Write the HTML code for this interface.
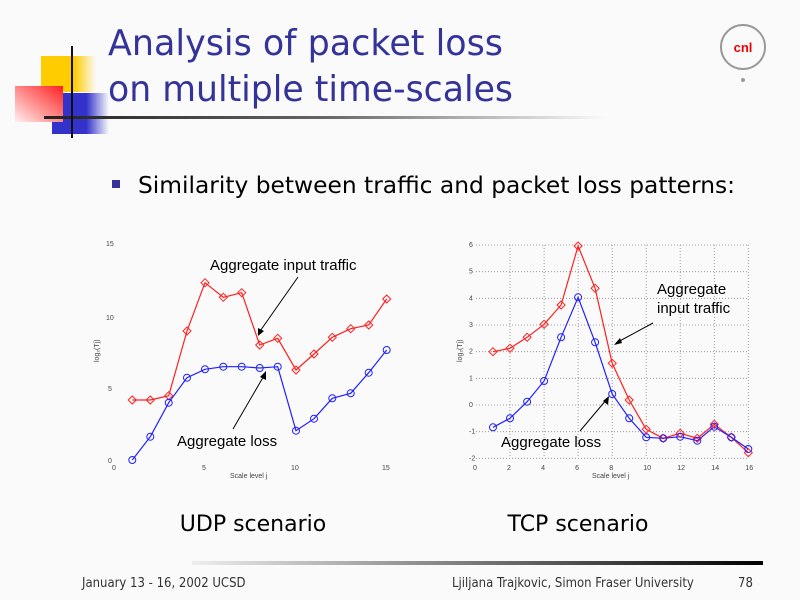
<!DOCTYPE html>
<html><head><meta charset="utf-8"><style>
html,body{margin:0;padding:0;background:#fafafa;}
svg{display:block}
</style></head><body>
<svg id="s" width="800" height="600" xmlns="http://www.w3.org/2000/svg" font-family="Liberation Sans, sans-serif">
<defs>
<linearGradient id="hl" x1="0" x2="1"><stop offset="0" stop-color="#222"/><stop offset="0.5" stop-color="#666"/><stop offset="1" stop-color="#fafafa"/></linearGradient>
<linearGradient id="fl" x1="0" x2="1"><stop offset="0" stop-color="#eee"/><stop offset="1" stop-color="#000"/></linearGradient>
<linearGradient id="rd" x1="1" y1="0" x2="0" y2="1"><stop offset="0" stop-color="#ff2020"/><stop offset="1" stop-color="#fff0f0"/></linearGradient>
<linearGradient id="bl" x1="0" x2="1"><stop offset="0.6" stop-color="#3333cc"/><stop offset="1" stop-color="#fafafa"/></linearGradient>
<linearGradient id="yl" x1="0" x2="1"><stop offset="0.6" stop-color="#ffcc00"/><stop offset="1" stop-color="#fafafa"/></linearGradient>
</defs>
<rect width="800" height="600" fill="#fafafa"/>
<rect x="41" y="56" width="55" height="36" fill="url(#yl)"/>
<rect x="52" y="93" width="57" height="41" fill="url(#bl)"/>
<rect x="15" y="86" width="48" height="36" fill="url(#rd)"/>
<rect x="44" y="116" width="562" height="3" fill="url(#hl)"/>
<rect x="71" y="46" width="2" height="92" fill="#111"/>
<text x="108" y="55" font-size="36" fill="#333399" font-family="DejaVu Sans, sans-serif" textLength="395" lengthAdjust="spacingAndGlyphs">Analysis of packet loss</text>
<text x="108" y="101" font-size="36" fill="#333399" font-family="DejaVu Sans, sans-serif" textLength="405" lengthAdjust="spacingAndGlyphs">on multiple time-scales</text>
<circle cx="743" cy="47" r="22" fill="none" stroke="#999" stroke-width="2"/>
<circle cx="743" cy="80" r="2" fill="#999"/>
<text x="743" y="52" font-size="13" font-weight="bold" fill="#ee0000" text-anchor="middle">cnl</text>
<rect x="112" y="180" width="8" height="8" fill="#333399"/>
<text x="138" y="193" font-size="23" fill="#000" font-family="DejaVu Sans, sans-serif" textLength="597" lengthAdjust="spacingAndGlyphs">Similarity between traffic and packet loss patterns:</text>
<g id="charts"></g>
<text x="253" y="531" font-size="22" text-anchor="middle" font-family="DejaVu Sans, sans-serif">UDP scenario</text>
<text x="578" y="531" font-size="22" text-anchor="middle" font-family="DejaVu Sans, sans-serif">TCP scenario</text>
<rect x="192" y="561" width="571" height="4" fill="url(#fl)"/>
<text x="82" y="587" font-size="13" fill="#333" font-family="DejaVu Sans Condensed, sans-serif">January 13 - 16, 2002 UCSD</text>
<text x="452" y="587" font-size="13" fill="#333" font-family="DejaVu Sans Condensed, sans-serif">Ljiljana Trajkovic, Simon Fraser University</text>
<text x="738" y="587" font-size="13" fill="#333" font-family="DejaVu Sans Condensed, sans-serif">78</text>
</svg>
<script>
var g=document.getElementById('charts'),h='';
function poly(pts,c){return '<polyline points="'+pts.map(p=>p.join(',')).join(' ')+'" fill="none" stroke="'+c+'" stroke-width="1.2"/>';}
function dia(x,y,c){return '<polygon points="'+x+','+(y-4)+' '+(x+4)+','+y+' '+x+','+(y+4)+' '+(x-4)+','+y+'" fill="none" stroke="'+c+'"/>';}
function cir(x,y,c){return '<circle cx="'+x+'" cy="'+y+'" r="3.5" fill="none" stroke="'+c+'"/>';}
var lx=[127,181,236,291,345,400,455,509,563,618,672,727,782,836,890];
var lr=[510,510,497,303,158,202,188,345,325,420,372,322,296,285,207];
var lb=[690,620,518,443,418,410,410,414,410,602,566,505,490,428,360];
var R=[],B=[];
for(var i=0;i<15;i++){var x=+(90+lx[i]/3).toFixed(1);R.push([x,+(230+lr[i]/3).toFixed(1)]);B.push([x,+(230+lb[i]/3).toFixed(1)]);}
h+=poly(R,'#ff2020')+poly(B,'#2020ff');R.forEach(p=>h+=dia(p[0],p[1],'#ff2020'));B.forEach(p=>h+=cir(p[0],p[1],'#2020ff'));
h+='<g font-size="7" fill="#444"><text x="106" y="246">15</text><text x="106" y="320">10</text><text x="108" y="391">5</text><text x="108" y="463">0</text><text x="112" y="470">0</text><text x="202" y="470">5</text><text x="291" y="470">10</text><text x="382" y="470">15</text><text x="230" y="478" font-size="7">Scale level j</text><text transform="translate(99,362) rotate(-90)">log₂(Tj)</text></g>';
h+='<text x="210" y="270" font-size="15">Aggregate input traffic</text><text x="177" y="446" font-size="15">Aggregate loss</text>';
h+='<line x1="298" y1="277" x2="258" y2="334" stroke="#000"/><polygon points="258,336 258,328 264,331" fill="#000"/>';
h+='<line x1="233" y1="429" x2="265" y2="374" stroke="#000"/><polygon points="266,371 266,380 260,377" fill="#000"/>';
var rr=[365,355,322,283,225,48,175,400,510,598,625,610,625,583,622,668];
var rb=[592,565,515,453,322,202,337,492,565,622,625,620,632,590,622,657];
var X=i=>+(450+(78+51.06*i)/3).toFixed(1);
h+='<g stroke="#888" stroke-dasharray="1,2" stroke-width="0.8">';
for(var k=0;k<=8;k++){var y=(230+(45+80*k)/3).toFixed(1);h+='<line x1="476" x2="748" y1="'+y+'" y2="'+y+'"/>';}
for(var k=2;k<=16;k+=2){h+='<line y1="245" y2="458" x1="'+X(k)+'" x2="'+X(k)+'"/>';}
h+='</g>';
R=[];B=[];for(var i=1;i<=16;i++){R.push([X(i),+(230+rr[i-1]/3).toFixed(1)]);B.push([X(i),+(230+rb[i-1]/3).toFixed(1)]);}
h+=poly(R,'#ff2020')+poly(B,'#2020ff');R.forEach(p=>h+=dia(p[0],p[1],'#ff2020'));B.forEach(p=>h+=cir(p[0],p[1],'#2020ff'));
var yl=['6','5','4','3','2','1','0','-1','-2'];
h+='<g font-size="7" fill="#444">';
for(var k=0;k<9;k++)h+='<text x="469" y="'+(232+(45+80*k)/3).toFixed(1)+'">'+yl[k]+'</text>';
for(var k=0;k<=16;k+=2)h+='<text x="'+(X(k)-3)+'" y="470">'+k+'</text>';
h+='<text x="592" y="478">Scale level j</text><text transform="translate(462,362) rotate(-90)">log₂(Tj)</text></g>';
h+='<text x="657" y="294" font-size="15">Aggregate</text><text x="657" y="313" font-size="15">input traffic</text><text x="501" y="447" font-size="15">Aggregate loss</text>';
h+='<line x1="653" y1="323" x2="616" y2="343" stroke="#000"/><polygon points="614,345 620,338 622,343" fill="#000"/>';
h+='<line x1="580" y1="431" x2="607" y2="399" stroke="#000"/><polygon points="609,396 608,405 603,401" fill="#000"/>';
g.innerHTML=h;
</script>
</body></html>
